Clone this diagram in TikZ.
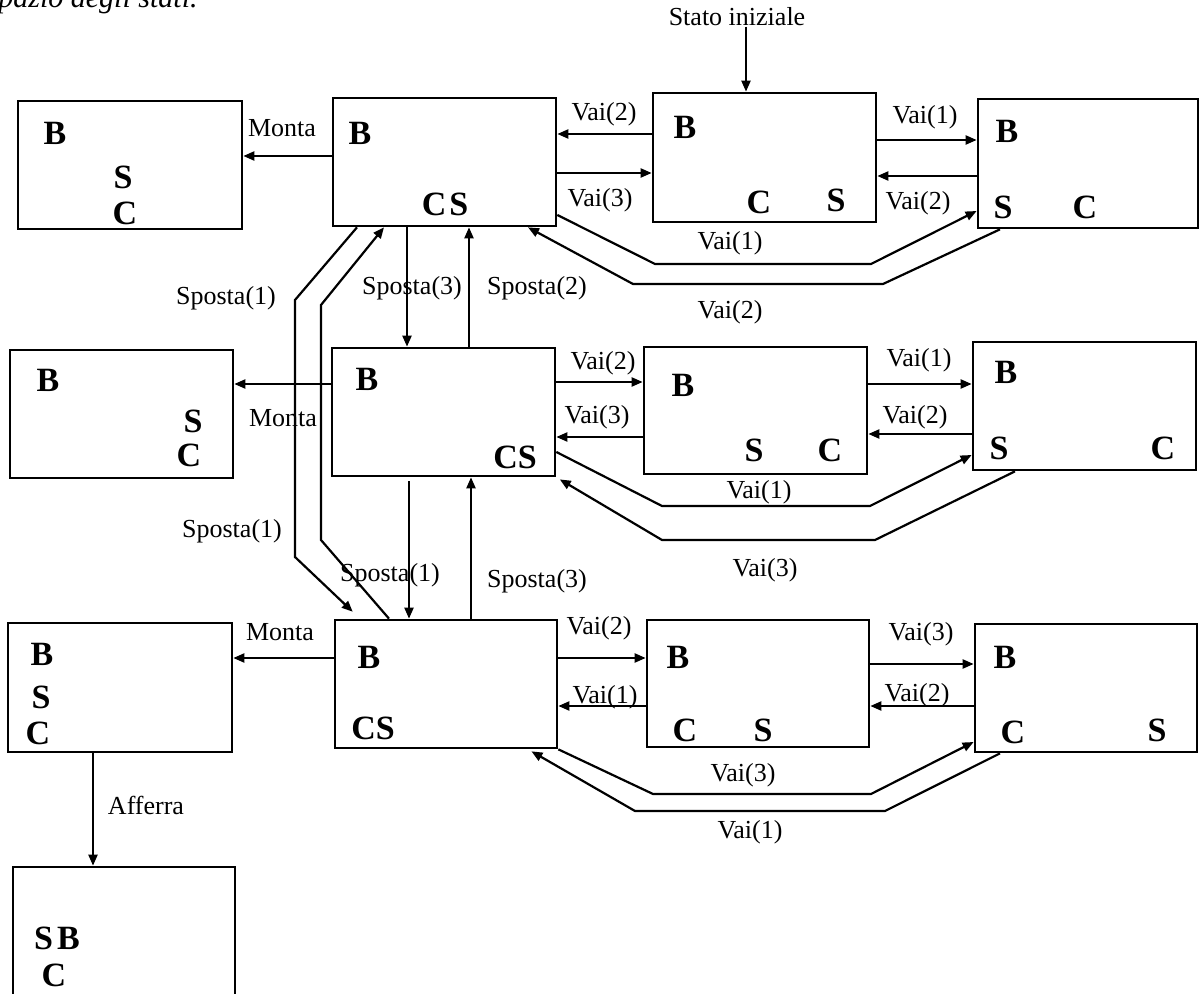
\documentclass[tikz,border=0pt]{standalone}
\usepackage{fontspec}
\setmainfont{Liberation Serif}
\usetikzlibrary{arrows.meta}
\begin{document}
\begin{tikzpicture}[x=0.5pt,y=-0.5pt,
  sbox/.style 2 args={draw,line width=1.35pt,inner sep=0pt,minimum width=#1*0.5pt,minimum height=#2*0.5pt},
  lett/.style={font=\fontsize{17}{18}\selectfont\bfseries,inner sep=0pt},
  lab/.style={font=\fontsize{13}{15}\selectfont,inner sep=0pt},
  conn/.style={line width=1.1pt,-{Triangle[length=5.5pt,width=4.5pt]}},
]
\useasboundingbox (0,0) rectangle (1200,994);
% title
\node[font=\fontsize{15}{17}\selectfont\itshape,inner sep=0pt,anchor=base west] (title) at (-2,8) {pazio degli stati.};
% boxes
\node[sbox={224}{128}] (a1) at (130,165) {};
\node[sbox={223}{128}] (a2) at (444.5,162) {};
\node[sbox={223}{129}] (a3) at (764.5,157.5) {};
\node[sbox={220}{129}] (a4) at (1088,163.5) {};
\node[sbox={223}{128}] (b1) at (121.5,414) {};
\node[sbox={223}{128}] (b2) at (443.5,412) {};
\node[sbox={223}{127}] (b3) at (755.5,410.5) {};
\node[sbox={223}{128}] (b4) at (1084.5,406) {};
\node[sbox={224}{129}] (c1) at (120,687.5) {};
\node[sbox={222}{128}] (c2) at (446,684) {};
\node[sbox={222}{127}] (c3) at (758,683.5) {};
\node[sbox={222}{128}] (c4) at (1086,688) {};
\node[sbox={222}{143}] (d) at (124,938.5) {};
% letters
\node[lett] (a1b) at (55,133) {B};
\node[lett] (a1s) at (123,177) {S};
\node[lett] (a1c) at (125,213) {C};
\node[lett] (a2b) at (360,133) {B};
\node[lett] (a2cs) at (445,204) {C\kern1.5pt S};
\node[lett] (a3b) at (685,127) {B};
\node[lett] (a3c) at (759,202) {C};
\node[lett] (a3s) at (836,200) {S};
\node[lett] (a4b) at (1007,131) {B};
\node[lett] (a4s) at (1003,207) {S};
\node[lett] (a4c) at (1085,207) {C};
\node[lett] (b1b) at (48,380) {B};
\node[lett] (b1s) at (193,421) {S};
\node[lett] (b1c) at (189,455) {C};
\node[lett] (b2b) at (367,379) {B};
\node[lett] (b2cs) at (515,457) {CS};
\node[lett] (b3b) at (683,385) {B};
\node[lett] (b3s) at (754,450) {S};
\node[lett] (b3c) at (830,450) {C};
\node[lett] (b4b) at (1006,372) {B};
\node[lett] (b4s) at (999,448) {S};
\node[lett] (b4c) at (1163,448) {C};
\node[lett] (c1b) at (42,654) {B};
\node[lett] (c1s) at (41,697) {S};
\node[lett] (c1c) at (38,733) {C};
\node[lett] (c2b) at (369,657) {B};
\node[lett] (c2cs) at (373,728) {CS};
\node[lett] (c3b) at (678,657) {B};
\node[lett] (c3c) at (685,730) {C};
\node[lett] (c3s) at (763,730) {S};
\node[lett] (c4b) at (1005,657) {B};
\node[lett] (c4c) at (1013,732) {C};
\node[lett] (c4s) at (1157,730) {S};
\node[lett] (dsb) at (57,938) {S\kern2pt B};
\node[lett] (dc) at (54,975) {C};
% labels
\node[lab] (stato) at (737,17) {Stato iniziale};
\node[lab] (lm1) at (282,128) {Monta};
\node[lab] (lv2a) at (604,114) {Vai(2)};
\node[lab] (lv3a) at (600,200) {Vai(3)};
\node[lab] (lv1a) at (925,117) {Vai(1)};
\node[lab] (lv2b) at (918,203) {Vai(2)};
\node[lab] (lv1l) at (730,243) {Vai(1)};
\node[lab] (lv2l) at (730,312) {Vai(2)};
\node[lab] (lsp1a) at (226,298) {Sposta(1)};
\node[lab] (lsp3a) at (412,288) {Sposta(3)};
\node[lab] (lsp2a) at (537,288) {Sposta(2)};
\node[lab] (lm2) at (283,418) {Monta};
\node[lab] (lv2c) at (603,363) {Vai(2)};
\node[lab] (lv3c) at (597,417) {Vai(3)};
\node[lab] (lv1c) at (919,360) {Vai(1)};
\node[lab] (lv2d) at (915,417) {Vai(2)};
\node[lab] (lv1m) at (759,492) {Vai(1)};
\node[lab] (lv3m) at (765,570) {Vai(3)};
\node[lab] (lsp1b) at (232,531) {Sposta(1)};
\node[lab] (lsp1c) at (390,575) {Sposta(1)};
\node[lab] (lsp3b) at (537,581) {Sposta(3)};
\node[lab] (lm3) at (280,632) {Monta};
\node[lab] (laff) at (146,805) {Afferra};
\node[lab] (lv2e) at (599,628) {Vai(2)};
\node[lab] (lv1e) at (605,697) {Vai(1)};
\node[lab] (lv3e) at (921,634) {Vai(3)};
\node[lab] (lv2f) at (917,695) {Vai(2)};
\node[lab] (lv3n) at (743,775) {Vai(3)};
\node[lab] (lv1n) at (750,832) {Vai(1)};
% connectors row 1
\draw[conn] (stato.south -| 746,0) -- (a3.north -| 746,0);
\draw[conn] (a2.west |- 0,156) -- (a1.east |- 0,156);
\draw[conn] (a3.west |- 0,134) -- (a2.east |- 0,134);
\draw[conn] (a2.east |- 0,173) -- (a3.west |- 0,173);
\draw[conn] (a3.east |- 0,140) -- (a4.west |- 0,140);
\draw[conn] (a4.west |- 0,176) -- (a3.east |- 0,176);
\draw[conn] (a2.east |- 0,215) -- (655,264) -- (871,264) -- (a4.west |- 0,211);
\draw[conn] (a4.south -| 1000,0) -- (883,284) -- (633,284) -- (a2.south -| 528,0);
% vertical between row 1 and 2
\draw[conn] (a2.south -| 407,0) -- (b2.north -| 407,0);
\draw[conn] (b2.north -| 469,0) -- (a2.south -| 469,0);
\draw[conn,shorten >=5pt] (a2.south -| 357,0) -- (295,300) -- (295,557) -- (c2.north -| 360,0);
\draw[conn] (c2.north -| 389,0) -- (321,540) -- (321,305) -- (a2.south -| 384,0);
% row 2
\draw[conn] (b2.west |- 0,384) -- (b1.east |- 0,384);
\draw[conn] (b2.east |- 0,382) -- (b3.west |- 0,382);
\draw[conn] (b3.west |- 0,437) -- (b2.east |- 0,437);
\draw[conn] (b3.east |- 0,384) -- (b4.west |- 0,384);
\draw[conn] (b4.west |- 0,434) -- (b3.east |- 0,434);
\draw[conn] (b2.east |- 0,452) -- (662,506) -- (870,506) -- (b4.west |- 0,455);
\draw[conn,shorten >=2pt] (b4.south -| 1015,0) -- (875,540) -- (662,540) -- (b2.south east);
\draw[conn,shorten <=2pt] (b2.south -| 409,0) -- (c2.north -| 409,0);
\draw[conn] (c2.north -| 471,0) -- (b2.south -| 471,0);
% row 3
\draw[conn] (c2.west |- 0,658) -- (c1.east |- 0,658);
\draw[conn] (c1.south -| 93,0) -- (d.north -| 93,0);
\draw[conn] (c2.east |- 0,658) -- (c3.west |- 0,658);
\draw[conn] (c3.west |- 0,706) -- (c2.east |- 0,706);
\draw[conn] (c3.east |- 0,664) -- (c4.west |- 0,664);
\draw[conn] (c4.west |- 0,706) -- (c3.east |- 0,706);
\draw[conn] (c2.south east) -- (653,794) -- (871,794) -- (c4.west |- 0,742);
\draw[conn,shorten >=2pt] (c4.south -| 1000,0) -- (885,811) -- (635,811) -- (c2.south -| 528,0);
\end{tikzpicture}
\end{document}
